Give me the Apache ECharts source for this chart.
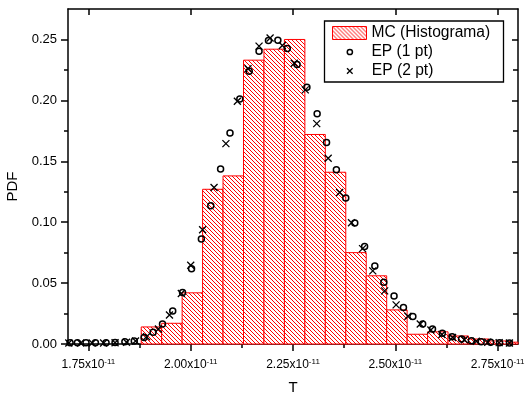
<!DOCTYPE html>
<html><head><meta charset="utf-8">
<script src="https://cdn.jsdelivr.net/npm/echarts@6/dist/echarts.min.js"></script>
<style>html,body{margin:0;padding:0;background:#fff}#c{width:527px;height:394px}</style>
</head><body><div id="c"></div>
<script>
// x values are in units of 1e-11
const histEdges  = [1.879, 1.929, 1.979, 2.029, 2.079, 2.129, 2.179, 2.229, 2.279, 2.329, 2.379, 2.429, 2.479, 2.529, 2.579, 2.629, 2.679, 2.729, 2.779, 2.829];
const histValues = [0.014, 0.017, 0.042, 0.127, 0.138, 0.233, 0.242, 0.250, 0.172, 0.141, 0.075, 0.056, 0.028, 0.008, 0.010, 0.0066, 0.0041, 0.0025, 0.0015];

const ep1X = [1.705,1.723,1.744,1.767,1.793,1.815,1.839,1.862,1.886,1.908,1.931,1.956,1.980,2.002,2.026,2.049,2.073,2.096,2.120,2.143,2.167,2.190,2.213,2.236,2.260,2.284,2.309,2.332,2.356,2.379,2.401,2.425,2.450,2.472,2.497,2.520,2.543,2.567,2.591,2.615,2.639,2.662,2.686,2.710,2.733,2.755,2.779];
const ep1Y = [0.001,0.001,0.001,0.001,0.001,0.0012,0.0018,0.0025,0.0053,0.0096,0.0164,0.0271,0.0422,0.0617,0.0861,0.1135,0.1437,0.1733,0.2012,0.2239,0.2404,0.2492,0.2494,0.2426,0.2294,0.2108,0.1891,0.1655,0.1431,0.1198,0.0993,0.0800,0.0641,0.0507,0.0395,0.0299,0.0225,0.0164,0.0123,0.0088,0.0060,0.0041,0.0027,0.0019,0.0014,0.0010,0.0008];

const ep2X = [1.702,1.731,1.759,1.787,1.815,1.843,1.865,1.892,1.921,1.948,1.977,2.000,2.029,2.057,2.086,2.114,2.140,2.167,2.194,2.224,2.253,2.280,2.308,2.336,2.364,2.393,2.420,2.445,2.474,2.502,2.531,2.561,2.587,2.614,2.640,2.669,2.698,2.726,2.754,2.779];
const ep2Y = [0.0008,0.0008,0.0008,0.0008,0.001,0.0015,0.0025,0.006,0.0123,0.0238,0.0415,0.0646,0.0938,0.1285,0.1645,0.1993,0.2259,0.2445,0.2512,0.2451,0.2305,0.2086,0.1809,0.1525,0.1244,0.0995,0.0783,0.060,0.0436,0.0321,0.0228,0.0164,0.0115,0.0078,0.0053,0.0035,0.0022,0.0014,0.0011,0.0008];

const xMajor = [1.75, 2.00, 2.25, 2.50, 2.75];
const xMinor = [1.875, 2.125, 2.375, 2.625];
const yMajor = [0, 0.05, 0.10, 0.15, 0.20, 0.25];
const yMinor = [0.025, 0.075, 0.125, 0.175, 0.225];
const X_MIN = 1.70, X_MAX = 2.80, Y_MIN = 0, Y_MAX = 0.275;

const names = ['MC (Histograma)', 'EP (1 pt)', 'EP (2 pt)'];

function makeHatch() {
  const n = 4;
  const c = document.createElement('canvas'); c.width = n; c.height = n;
  const g = c.getContext('2d');
  g.fillStyle = '#ffffff'; g.fillRect(0, 0, n, n);
  g.fillStyle = '#ff0000';
  for (let i = 0; i < n; i++) g.fillRect(i, i, 1, 1);
  return c;
}
const hatch = { image: makeHatch(), repeat: 'repeat' };
const FONT = 'Liberation Sans, Arial, sans-serif';
const crossPath = 'path://M0,0L10,10M10,0L0,10';
// legend icons: invisible corner points fix the 34x13 box so the marker sits centred
const legendCircle = 'path://M0,0L0,0M34,13L34,13M20,6.5A2.6,2.6,0,1,1,14.8,6.5A2.6,2.6,0,1,1,20,6.5Z';
const legendCross = 'path://M0,0L0,0M34,13L34,13M14.2,3.7L19.8,9.3M19.8,3.7L14.2,9.3';

const chart = echarts.init(document.getElementById('c'), null, { renderer: 'canvas' });
const black = { color: '#000', width: 1.5 };

function xAx(pos, ticks, len, inside, extra) {
  return Object.assign({
    type: 'value', min: X_MIN, max: X_MAX, position: pos, gridIndex: 0,
    splitLine: { show: false },
    axisLine: { show: false, lineStyle: black },
    axisTick: { show: true, customValues: ticks, length: len, inside: inside, lineStyle: black },
    axisLabel: { show: false }
  }, extra || {});
}
function yAx(pos, ticks, len, inside, extra) {
  return Object.assign({
    type: 'value', min: Y_MIN, max: Y_MAX, position: pos, gridIndex: 0,
    splitLine: { show: false },
    axisLine: { show: false, lineStyle: black },
    axisTick: { show: true, customValues: ticks, length: len, inside: inside, lineStyle: black },
    axisLabel: { show: false }
  }, extra || {});
}
const legendText = { fontSize: 15.6, color: '#000', fontFamily: FONT, lineHeight: 18 };
function legendBox(name, icon, style, top, left) {
  return { data: [{ name: name, icon: icon, itemStyle: style }],
    left: left, top: top, itemWidth: 34, itemHeight: 13, padding: 0, z: 10, selectedMode: false,
    textStyle: legendText };
}

const option = {
  animation: false,
  backgroundColor: '#fff',
  textStyle: { fontFamily: FONT, color: '#000' },
  grid: { left: 68, right: 9, top: 9, bottom: 50, containLabel: false, outerBoundsMode: 'none' },
  xAxis: [
    xAx('bottom', xMajor, 7, false, {
      axisLine: { show: true, onZero: false, lineStyle: black },
      name: 'T', nameLocation: 'middle', nameGap: 36,
      nameTextStyle: { fontSize: 15, color: '#000', fontFamily: FONT },
      axisLabel: {
        show: true, customValues: xMajor, margin: 14,
        formatter: v => '{a|' + v.toFixed(2) + 'x10}{b|-11}',
        rich: {
          a: { fontSize: 12, color: '#000', fontFamily: FONT },
          b: { fontSize: 8, color: '#000', fontFamily: FONT, verticalAlign: 'top', padding: [0, 0, 6, 0] }
        }
      }
    }),
    xAx('bottom', xMinor, 4, false),
    xAx('top', xMajor, 6, true, { axisLine: { show: true, onZero: false, lineStyle: black } }),
    xAx('top', xMinor, 4, true)
  ],
  yAxis: [
    yAx('left', yMajor, 7, false, {
      axisLine: { show: true, onZero: false, lineStyle: black },
      name: 'PDF', nameLocation: 'middle', nameGap: 46,
      nameTextStyle: { fontSize: 15, color: '#000', fontFamily: FONT, padding: [0, 20, 0, 0] },
      axisLabel: { show: true, customValues: yMajor, margin: 11, fontSize: 13, color: '#000', fontFamily: FONT,
        formatter: v => v.toFixed(2) }
    }),
    yAx('left', yMinor, 4, false),
    yAx('right', yMajor, 6, true, { axisLine: { show: true, onZero: false, lineStyle: black } }),
    yAx('right', yMinor, 5, true)
  ],
  graphic: [{
    type: 'rect', z: 3, silent: true,
    shape: { x: 324.5, y: 21, width: 179, height: 61 },
    style: { fill: '#fff', stroke: '#000', lineWidth: 1.3 }
  }],
  legend: [
    legendBox(names[0], 'rect', { color: hatch, borderColor: '#ff0000', borderWidth: 1 }, 24, 332),
    legendBox(names[1], legendCircle, { color: '#fff', borderColor: '#000', borderWidth: 1.5 }, 43, 331.7),
    legendBox(names[2], legendCross, { color: 'none', borderColor: '#000', borderWidth: 1.3 }, 62, 330.3)
  ],
  series: [
    {
      type: 'custom', name: names[0], xAxisIndex: 0, yAxisIndex: 0, silent: true,
      data: histValues.map((v, i) => [histEdges[i], histEdges[i + 1], v]),
      encode: { x: [0, 1], y: 2 },
      itemStyle: { color: hatch, borderColor: '#ff0000' },
      renderItem: function (params, api) {
        const x0 = api.value(0), x1 = Math.min(api.value(1), X_MAX), h = api.value(2);
        const p0 = api.coord([x0, h]), p1 = api.coord([x1, 0]);
        return {
          type: 'rect',
          shape: { x: p0[0], y: p0[1], width: p1[0] - p0[0], height: p1[1] - p0[1] },
          style: { fill: hatch, stroke: '#ff0000', lineWidth: 1 }
        };
      }
    },
    {
      type: 'scatter', name: names[1], xAxisIndex: 0, yAxisIndex: 0, silent: true,
      data: ep1X.map((x, i) => [x, ep1Y[i]]),
      symbol: 'circle', symbolSize: 6,
      itemStyle: { color: 'rgba(0,0,0,0)', borderColor: '#000', borderWidth: 1.5, opacity: 1 },
      z: 5
    },
    {
      type: 'scatter', name: names[2], xAxisIndex: 0, yAxisIndex: 0, silent: true,
      data: ep2X.map((x, i) => [x, ep2Y[i]]),
      symbol: crossPath, symbolSize: 7,
      itemStyle: { color: 'none', borderColor: '#000', borderWidth: 1.3, opacity: 1 },
      z: 5
    }
  ]
};
chart.setOption(option);
</script>
</body></html>
